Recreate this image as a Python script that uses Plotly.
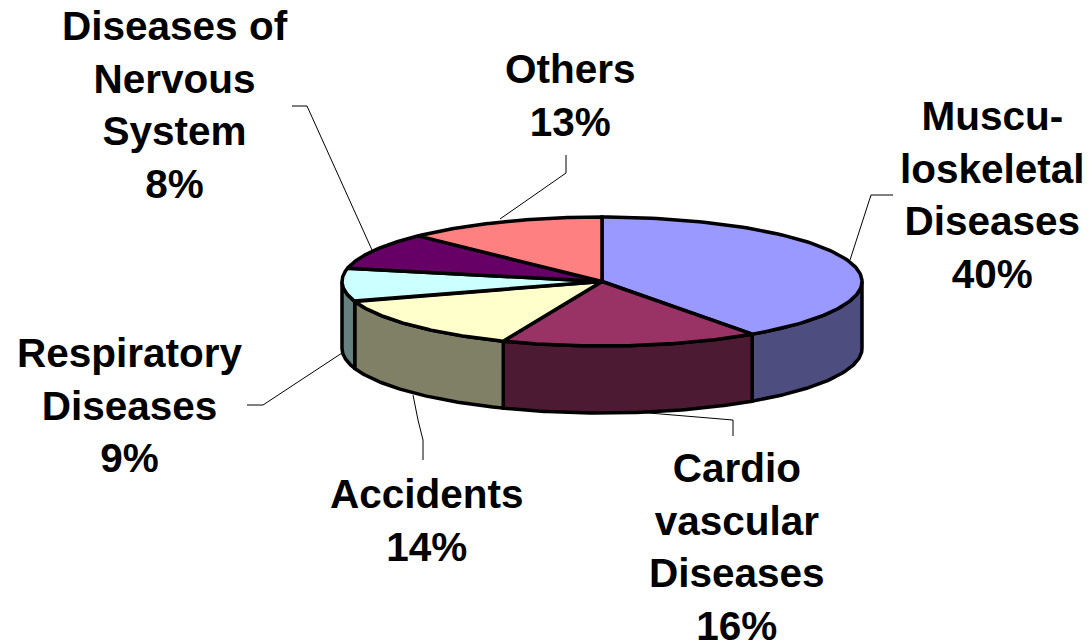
import numpy as np
import plotly.graph_objects as go

# Data
categories = ["Musculoskeletal", "Cardiovascular", "Accidents", "Respiratory", "Nervous System", "Others"]
label_lines = [
    "Muscu-<br>loskeletal<br>Diseases",
    "Cardio<br>vascular<br>Diseases",
    "Accidents",
    "Respiratory<br>Diseases",
    "Diseases of<br>Nervous<br>System",
    "Others",
]
# Percentages printed on the labels
percent = [40, 16, 14, 9, 8, 13]
# Slice sizes as measured on the drawing (the tilted pie skews them slightly from the labels)
drawn_share = [40.2, 16.0, 13.8, 8.3, 9.2, 12.5]

# Styles
top_colors = ["#9999FF", "#993366", "#FFFFCC", "#CCFFFF", "#660066", "#FF8080"]
side_colors = ["#4D4D80", "#4D1A33", "#808066", "#668080", "#330033", "#804040"]
label_pos = [(992, 195), (737, 547), (427, 520), (130, 405), (175, 105), (570, 95)]
leaders = [
    ([893, 871, 850], [195, 195, 260]),
    ([733, 733, 637], [436, 420, 412]),
    ([423, 423, 418, 413], [460, 440, 420, 395]),
    ([247, 263, 342], [405, 405, 353]),
    ([292, 307, 372], [106, 106, 250]),
    ([566, 566, 500], [155, 173, 219]),
]
CX, CY, A, B, DEPTH = 602, 281.5, 260, 64.5, 67
LW = 3.5


def ex(t):
    return CX + A * np.sin(t)


def ey(t):
    return CY - B * np.cos(t)


fig = go.Figure()

# Leader lines
for lx, ly in leaders:
    fig.add_trace(go.Scatter(x=lx, y=ly, mode="lines", line=dict(color="#000000", width=1),
                             hoverinfo="skip", showlegend=False))

edges = np.cumsum([0] + drawn_share) / sum(drawn_share) * 2 * np.pi

# Side walls (only the front half of the disc is visible)
for i, name in enumerate(categories):
    lo, hi = max(edges[i], np.pi / 2), min(edges[i + 1], 3 * np.pi / 2)
    if lo >= hi:
        continue
    t = np.linspace(lo, hi, 80)
    xs = np.concatenate([ex(t), ex(t[::-1]), ex(t[:1])])
    ys = np.concatenate([ey(t), ey(t[::-1]) + DEPTH, ey(t[:1])])
    fig.add_trace(go.Scatter(x=xs, y=ys, mode="lines", fill="toself", fillcolor=side_colors[i],
                             line=dict(color="#000000", width=LW), name=name,
                             hoverinfo="skip", showlegend=False))

# Top faces
for i, name in enumerate(categories):
    t = np.linspace(edges[i], edges[i + 1], 120)
    xs = np.concatenate([[CX], ex(t), [CX]])
    ys = np.concatenate([[CY], ey(t), [CY]])
    fig.add_trace(go.Scatter(x=xs, y=ys, mode="lines", fill="toself", fillcolor=top_colors[i],
                             line=dict(color="#000000", width=LW), name=name,
                             hovertemplate=f"{name}: {percent[i]}%<extra></extra>", showlegend=False))

# Labels
for (lx, ly), txt, p in zip(label_pos, label_lines, percent):
    fig.add_annotation(x=lx, y=ly, text=f"{txt}<br>{p}%", showarrow=False, xanchor="center", yanchor="middle",
                       align="center",
                       font=dict(family="Liberation Sans, Arial, sans-serif", size=40.5, color="#000000"))

fig.update_annotations(font_weight="bold")
fig.update_layout(
    width=1091, height=644, margin=dict(l=0, r=0, t=0, b=0),
    paper_bgcolor="#FFFFFF", plot_bgcolor="#FFFFFF", showlegend=False,
    xaxis=dict(range=[0, 1091], visible=False, fixedrange=True),
    yaxis=dict(range=[644, 0], visible=False, fixedrange=True),
)
fig.write_html("out.html", config={"displayModeBar": False},
               post_script="document.body.style.margin='0';document.documentElement.style.overflow='hidden';")
